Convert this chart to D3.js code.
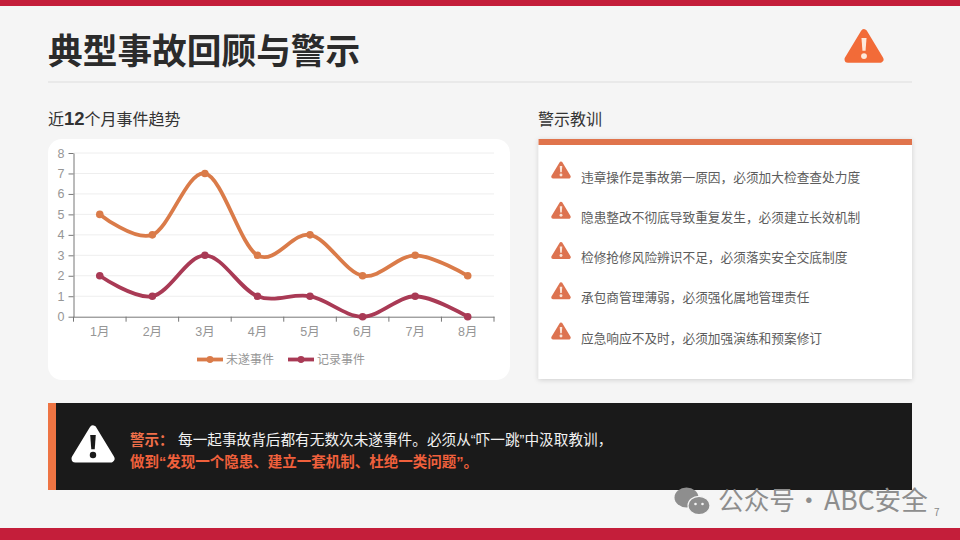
<!DOCTYPE html>
<html>
<head>
<meta charset="utf-8">
<script src="https://d3js.org/d3.v7.min.js"></script>
<style type="text/css">
    html, body { margin: 0; padding: 0; background: #f5f5f5; }
    svg { display: block; font-family: "Noto Sans CJK SC", "Noto Sans", sans-serif; }
    .grid line { stroke: #eeeeee; stroke-width: 1; }
    .axis text { fill: #969696; font-size: 12.5px; font-family: "Liberation Sans", "Noto Sans CJK SC", sans-serif; }
    .axis path, .axis line { stroke: #777777; }
    .series { fill: none; stroke-width: 3.8; }
    .latin-first { font-family: "Liberation Sans", "Noto Sans CJK SC", sans-serif; }
</style>
</head>
<body>
<svg id="chart" width="960" height="540"></svg>
<script>
    var months = ["1月", "2月", "3月", "4月", "5月", "6月", "7月", "8月"];
    var nearMiss = [5, 4, 7, 3, 4, 2, 3, 2];
    var recorded = [2, 1, 3, 1, 1, 0, 1, 0];
    var seriesNames = ["未遂事件", "记录事件"];
    var seriesColors = ["#da7b49", "#a93a55"];
    var yTicks = [0, 1, 2, 3, 4, 5, 6, 7, 8];
    var lessons = [
        "违章操作是事故第一原因，必须加大检查查处力度",
        "隐患整改不彻底导致重复发生，必须建立长效机制",
        "检修抢修风险辨识不足，必须落实安全交底制度",
        "承包商管理薄弱，必须强化属地管理责任",
        "应急响应不及时，必须加强演练和预案修订"
    ];

    var svg = d3.select("#chart");
    var defs = svg.append("defs");
    var shadow = defs.append("filter").attr("id", "shadow")
        .attr("x", "-5%").attr("y", "-5%").attr("width", "110%").attr("height", "110%");
    shadow.append("feDropShadow").attr("dx", 0).attr("dy", 1)
        .attr("stdDeviation", 2.5).attr("flood-color", "#000").attr("flood-opacity", 0.16);

    // warning triangle with rounded corners, cx/cy is the middle of the shape
    function warnIcon(cx, cy, w, fill, mark)
    {
        var h = w * 0.86, r = w * 0.09;
        var g = svg.append("g").attr("transform", "translate(" + cx + " " + cy + ")");
        g.append("path")
            .attr("d", "M0 " + (-h/2 + r) + "L" + (w/2 - r) + " " + (h/2 - r) + "L" + (-w/2 + r) + " " + (h/2 - r) + "Z")
            .attr("fill", fill).attr("stroke", fill)
            .attr("stroke-width", r * 2).attr("stroke-linejoin", "round");
        g.append("path")
            .attr("d", "M" + (-w*0.065) + " " + (-h*0.24) + "L" + (w*0.065) + " " + (-h*0.24)
                + "L" + (w*0.04) + " " + (h*0.14) + "L" + (-w*0.04) + " " + (h*0.14) + "Z")
            .attr("fill", mark);
        g.append("circle").attr("cy", h*0.3).attr("r", w*0.075).attr("fill", mark);
    }

    // page frame
    svg.append("rect").attr("width", 960).attr("height", 6).attr("fill", "#c41e3a");
    svg.append("rect").attr("y", 528).attr("width", 960).attr("height", 12).attr("fill", "#c41e3a");
    svg.append("text").attr("x", 48).attr("y", 64)
        .attr("font-size", 34.7).attr("font-weight", 700).attr("fill", "#2b2b2b")
        .text("典型事故回顾与警示");
    svg.append("line").attr("x1", 48).attr("x2", 912).attr("y1", 82).attr("y2", 82)
        .attr("stroke", "#dddddd");
    warnIcon(864, 46, 39, "#f26b38", "#fde8da");

    // section headings
    var h1 = svg.append("text").attr("x", 48).attr("y", 125)
        .attr("font-size", 16).attr("fill", "#333");
    h1.append("tspan").text("近");
    h1.append("tspan").attr("font-weight", 700).attr("font-family", "Liberation Sans").attr("font-size", 18.5).text("12");
    h1.append("tspan").text("个月事件趋势");
    svg.append("text").attr("x", 538).attr("y", 125)
        .attr("font-size", 16).attr("fill", "#333").text("警示教训");

    // chart card
    svg.append("rect").attr("x", 48).attr("y", 139).attr("width", 462).attr("height", 241)
        .attr("rx", 14).attr("fill", "#ffffff");

    var Plot = { left: 73.5, right: 494, top: 153, bottom: 316.7 };
    var x = d3.scaleBand().domain(months).range([Plot.left, Plot.right]);
    var y = d3.scaleLinear().domain([0, 8]).range([Plot.bottom, Plot.top]);

    svg.append("g").attr("class", "grid").selectAll("line")
        .data(yTicks.slice(1)).enter().append("line")
        .attr("x1", Plot.left).attr("x2", Plot.right)
        .attr("y1", d => y(d)).attr("y2", d => y(d));

    var yAxis = svg.append("g").attr("class", "axis")
        .attr("transform", "translate(" + Plot.left + " 0)")
        .call(d3.axisLeft(y).tickValues(yTicks).tickFormat(d3.format("d")).tickSize(5).tickSizeOuter(0).tickPadding(4));

    var xAxis = svg.append("g").attr("class", "axis")
        .attr("transform", "translate(0 " + Plot.bottom + ")")
        .call(d3.axisBottom(x).tickSize(0).tickPadding(10));

    // ticks sit on the band edges, not on the labels
    svg.append("g").attr("class", "axis").selectAll("line")
        .data(months.concat(["end"])).enter().append("line")
        .attr("x1", (d, i) => Plot.left + i * x.step())
        .attr("x2", (d, i) => Plot.left + i * x.step())
        .attr("y1", Plot.bottom).attr("y2", Plot.bottom + 5);

    var line = d3.line()
        .x((d, i) => x(months[i]) + x.bandwidth() / 2)
        .y(d => y(d))
        .curve(d3.curveCardinal.tension(0));

    [nearMiss, recorded].forEach(function(values, s) {
        svg.append("path").attr("class", "series")
            .attr("d", line(values)).attr("stroke", seriesColors[s]);
        svg.append("g").selectAll("circle").data(values).enter().append("circle")
            .attr("cx", (d, i) => x(months[i]) + x.bandwidth() / 2)
            .attr("cy", d => y(d))
            .attr("r", 3.8)
            .attr("fill", seriesColors[s]);
    });

    // legend
    var legendX = d3.scaleOrdinal().domain(seriesNames).range([197, 288]);
    var legend = svg.append("g").selectAll("g").data(seriesNames).enter().append("g")
        .attr("transform", d => "translate(" + legendX(d) + " 359.5)");
    legend.append("line").attr("x2", 26).attr("stroke-width", 3.8)
        .attr("stroke", (d, i) => seriesColors[i]);
    legend.append("circle").attr("cx", 13).attr("r", 3.4)
        .attr("fill", (d, i) => seriesColors[i]);
    legend.append("text").attr("x", 29).attr("y", 4.3)
        .attr("font-size", 12).attr("fill", "#969696").text(d => d);

    // lessons card
    svg.append("rect").attr("x", 538.5).attr("y", 139).attr("width", 373.5).attr("height", 240)
        .attr("fill", "#ffffff").attr("filter", "url(#shadow)");
    svg.append("rect").attr("x", 538.5).attr("y", 139).attr("width", 373.5).attr("height", 6)
        .attr("fill", "#e0744c");

    var lessonY = d3.scalePoint().domain(lessons).range([177, 338]);
    svg.append("g").selectAll("text").data(lessons).enter().append("text")
        .attr("x", 581).attr("y", d => lessonY(d) + 4.6)
        .attr("font-size", 12.7).attr("fill", "#5c5c5c").text(d => d);
    lessons.forEach(function(d) {
        warnIcon(561, lessonY(d) - 7, 19.5, "#dd7350", "#fbe6da");
    });

    // warning banner
    svg.append("rect").attr("x", 48).attr("y", 403).attr("width", 864).attr("height", 87)
        .attr("fill", "#1a1a1a");
    svg.append("rect").attr("x", 48).attr("y", 403).attr("width", 8).attr("height", 87)
        .attr("fill", "#ee7443");
    warnIcon(93, 444, 43, "#ffffff", "#1a1a1a");

    var l1 = svg.append("text").attr("class", "latin-first").attr("x", 130).attr("y", 445)
        .attr("font-size", 14.5).attr("fill", "#f2f2f2");
    l1.append("tspan").attr("font-weight", 700).attr("fill", "#f0704a").text("警示：");
    l1.append("tspan").attr("x", 178).attr("font-size", 14.65).text("每一起事故背后都有无数次未遂事件。必须从“吓一跳”中汲取教训，");
    svg.append("text").attr("class", "latin-first").attr("x", 130).attr("y", 467).attr("font-size", 14.5)
        .attr("font-weight", 700).attr("fill", "#f0603c")
        .text("做到“发现一个隐患、建立一套机制、杜绝一类问题”。");

    // watermark
    var wx = svg.append("g").attr("fill", "#8e8e8e");
    wx.append("ellipse").attr("cx", 686.5).attr("cy", 497.5).attr("rx", 12).attr("ry", 10);
    wx.append("ellipse").attr("cx", 699).attr("cy", 505.5).attr("rx", 11).attr("ry", 9.2)
        .attr("stroke", "#f5f5f5").attr("stroke-width", 1.2);
    wx.selectAll("circle").data([-3.5, 3.5]).enter().append("circle")
        .attr("cx", d => 699 + d).attr("cy", 504).attr("r", 1.3).attr("fill", "#f5f5f5");
    var wm = svg.append("text").attr("y", 510).attr("font-size", 25.7).attr("fill", "#8e8e8e");
    wm.append("tspan").attr("x", 718).text("公众号");
    wm.append("tspan").attr("x", 796).text("·");
    wm.append("tspan").attr("x", 824).attr("font-size", 26.6).text("ABC安全");
    svg.append("text").attr("x", 934).attr("y", 516).attr("font-size", 10)
        .attr("fill", "#888").text("7");
</script>
</body>
</html>
